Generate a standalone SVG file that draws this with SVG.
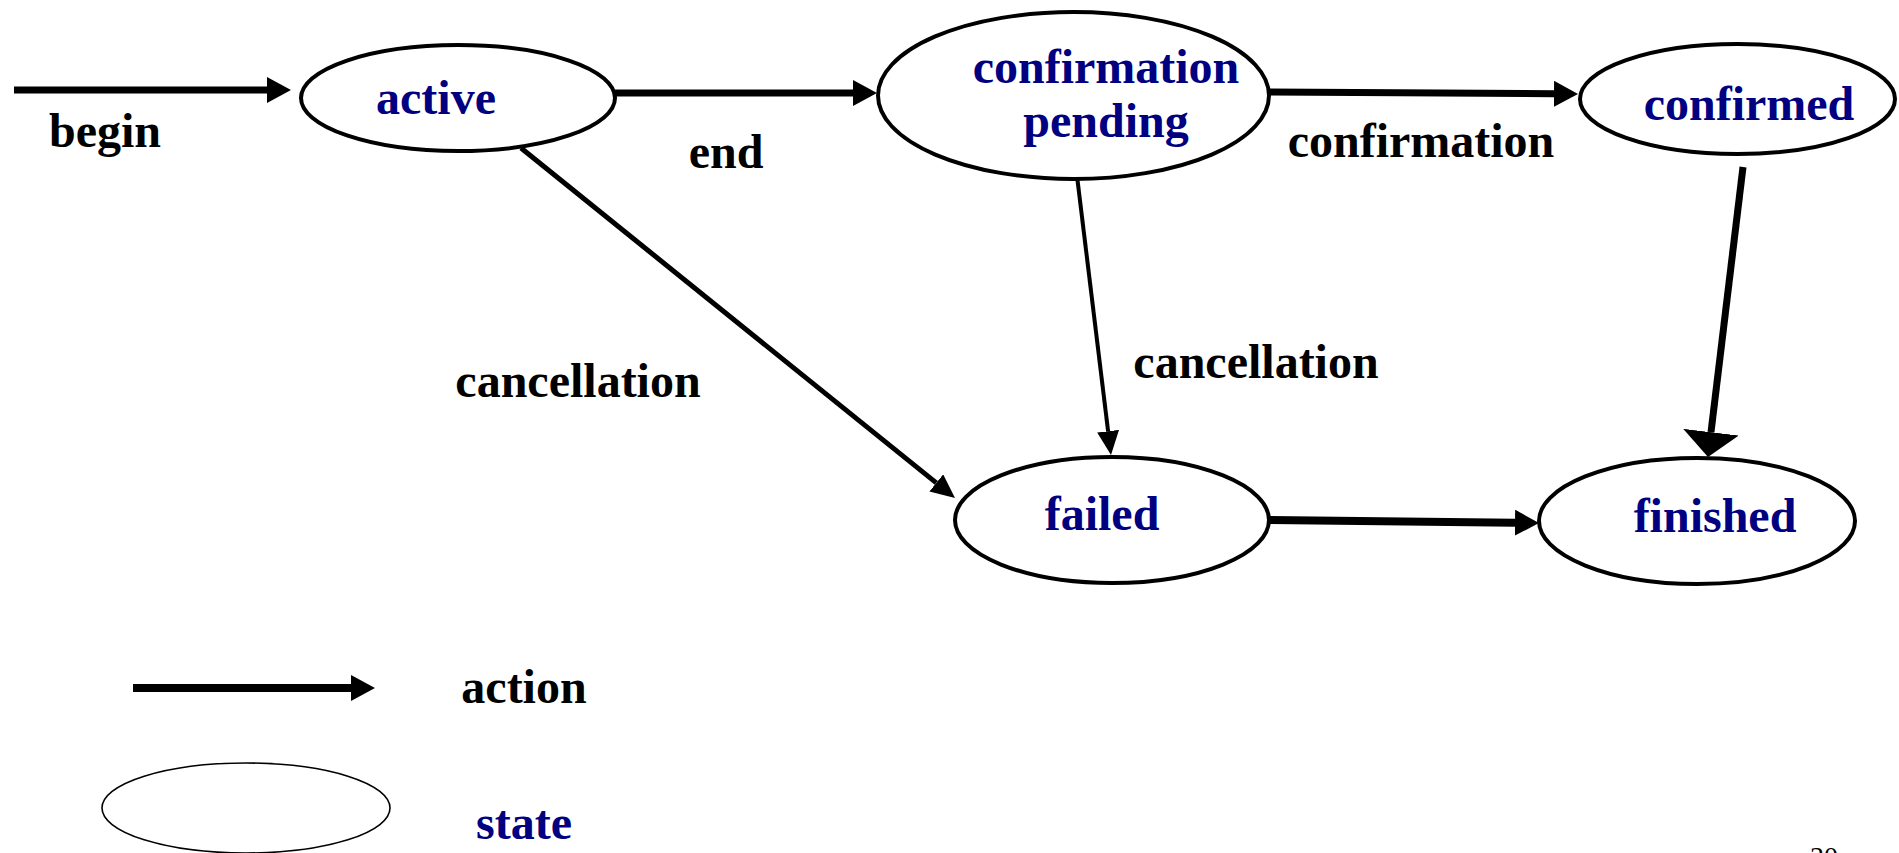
<svg xmlns="http://www.w3.org/2000/svg" width="1899" height="853" viewBox="0 0 1899 853">
<style>
.st{fill:#fff;stroke:#000;stroke-width:4}
.lg{fill:#fff;stroke:#000;stroke-width:1.6}
.t{font-family:"Liberation Serif","Times New Roman",serif;font-weight:bold;font-size:48px;text-anchor:middle}
.sn{fill:#000080}
.lb{fill:#000}
.c{stroke:#000;fill:none}
</style>
<defs>
<marker id="mA" viewBox="0 0 24 26" refX="0" refY="13" markerWidth="24" markerHeight="26" markerUnits="userSpaceOnUse" orient="auto"><path d="M0,0 L24,13 L0,26 Z" fill="#000"/></marker>
<marker id="mB" viewBox="0 0 24 22" refX="0" refY="11" markerWidth="24" markerHeight="22" markerUnits="userSpaceOnUse" orient="auto"><path d="M0,0 L24,11 L0,22 Z" fill="#000"/></marker>
<marker id="mC" viewBox="0 0 25 56" refX="0" refY="28" markerWidth="25" markerHeight="56" markerUnits="userSpaceOnUse" orient="auto"><path d="M0,0 L25,28 L0,56 Z" fill="#000"/></marker>
</defs>
<rect width="1899" height="853" fill="#fff"/>
<g id="connectors">
<line class="c" x1="14" y1="90" x2="267" y2="90" stroke-width="7" marker-end="url(#mA)"/>
<line class="c" x1="615" y1="93" x2="853" y2="93" stroke-width="7" marker-end="url(#mA)"/>
<line class="c" x1="1269" y1="92" x2="1554" y2="93.8" stroke-width="7" marker-end="url(#mA)"/>
<line class="c" x1="521" y1="148" x2="936.3" y2="482.9" stroke-width="5" marker-end="url(#mB)"/>
<line class="c" x1="1077" y1="176" x2="1108.1" y2="431.2" stroke-width="4" marker-end="url(#mB)"/>
<line class="c" x1="1743" y1="167" x2="1711" y2="432.2" stroke-width="7" marker-end="url(#mC)"/>
<line class="c" x1="1269" y1="520" x2="1515" y2="522.7" stroke-width="8" marker-end="url(#mA)"/>
</g>
<g id="labels">
<text class="t lb" x="105" y="147">begin</text>
<text class="t lb" x="726" y="168">end</text>
<text class="t lb" x="1421" y="157">confirmation</text>
<text class="t lb" x="578" y="397">cancellation</text>
<text class="t lb" x="1256" y="378">cancellation</text>
</g>
<g id="active">
<ellipse class="st" cx="458" cy="98" rx="157" ry="53"/>
<text class="t sn" x="436" y="114">active</text>
</g>
<g id="confirmation-pending">
<ellipse class="st" cx="1073.5" cy="95.5" rx="195.5" ry="83.5"/>
<text class="t sn" x="1106" y="83">confirmation</text>
<text class="t sn" x="1106" y="137">pending</text>
</g>
<g id="confirmed">
<ellipse class="st" cx="1737.5" cy="99" rx="157.5" ry="55"/>
<text class="t sn" x="1749" y="120">confirmed</text>
</g>
<g id="failed">
<ellipse class="st" cx="1112" cy="520" rx="157" ry="63"/>
<text class="t sn" x="1102" y="530">failed</text>
</g>
<g id="finished">
<ellipse class="st" cx="1697" cy="521" rx="158" ry="63"/>
<text class="t sn" x="1715" y="532">finished</text>
</g>
<g id="legend">
<line class="c" x1="133" y1="688" x2="351" y2="688" stroke-width="8" marker-end="url(#mA)"/>
<text class="t lb" x="524" y="703">action</text>
<ellipse class="lg" cx="246" cy="808" rx="144" ry="45"/>
<text class="t sn" x="524" y="839">state</text>
</g>
<text x="1824" y="866" font-family="Liberation Serif, serif" font-size="28" text-anchor="middle" fill="#000">30</text>
</svg>
